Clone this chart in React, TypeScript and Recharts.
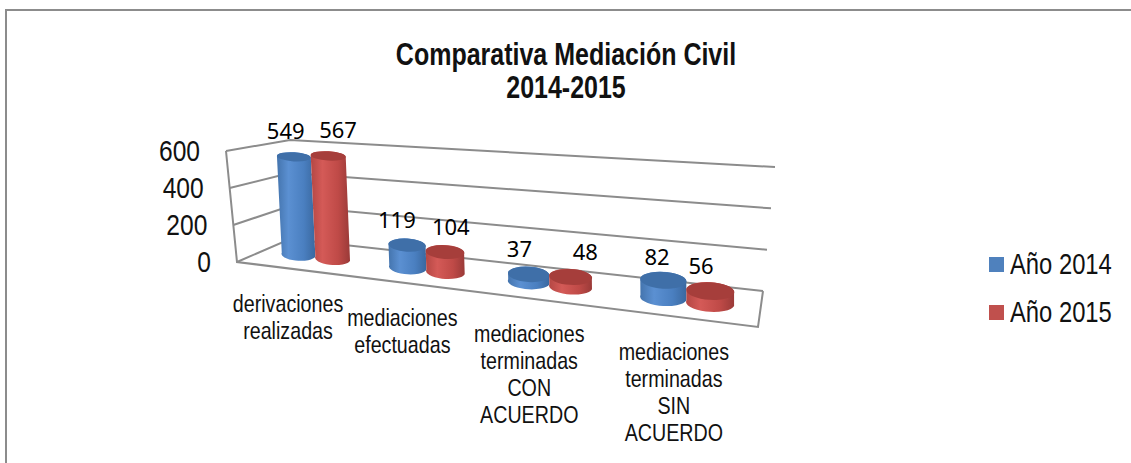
import React from 'react';
import { Bar, BarChart, CartesianGrid, LabelList, Legend, XAxis, YAxis } from 'recharts';

const categories = [
  ['derivaciones', 'realizadas'],
  ['mediaciones', 'efectuadas'],
  ['mediaciones', 'terminadas', 'CON', 'ACUERDO'],
  ['mediaciones', 'terminadas', 'SIN', 'ACUERDO'],
];
const year2014 = [549, 119, 37, 82];
const year2015 = [567, 104, 48, 56];
const yTicks = [0, 200, 400, 600];

const data = categories.map((lines, i) => ({
  name: lines.join(' '),
  y2014: year2014[i],
  y2015: year2015[i],
}));

const SANS = '"Liberation Sans", Arial, sans-serif';
const SQUEEZE = 0.82; // the picture's text is a horizontally squeezed Arial
const GRID = '#8c8c8c';
const W = 1131;
const H = 463;

// flat plot rect that recharts lays out, every mark is then pushed through project()
const PLOT = { left: 238, right: 758, top: 140, bottom: 262 };

// corners of the 3d box as seen in the picture
const FRONT = { bl: [237, 262], br: [758, 327], tl: [226, 151], tr: [746, 188] };
const BACK = { bl: [290, 239], br: [763, 291], tl: [290, 140], tr: [775, 167] };
const BAR_DEPTH = 0.5;
const PERSPECTIVE = 1.235;

const mix = (a: number, b: number, t: number) => a + (b - a) * t;

const project = (fx: number, fy: number, d: number) => {
  const u = (fx - PLOT.left) / (PLOT.right - PLOT.left);
  const v = (PLOT.bottom - fy) / (PLOT.bottom - PLOT.top);
  const s = u / (u + PERSPECTIVE * (1 - u));
  const plane = (q: typeof FRONT, k: number) =>
    mix(mix(q.bl[k], q.br[k], s), mix(q.tl[k], q.tr[k], s), v);
  return { x: mix(plane(FRONT, 0), plane(BACK, 0), d), y: mix(plane(FRONT, 1), plane(BACK, 1), d) };
};

const Cylinder = (props: any) => {
  const { x, y, width, height, gradient, cap } = props;
  const bottom = y + height;
  const bl = project(x, bottom, BAR_DEPTH);
  const br = project(x + width, bottom, BAR_DEPTH);
  const tl = project(x, y, BAR_DEPTH);
  const tr = project(x + width, y, BAR_DEPTH);
  const rx = (br.x - bl.x) / 2;
  const topRx = (tr.x - tl.x) / 2;
  // the tops flatten out the higher they are
  const level = height / (PLOT.bottom - PLOT.top);
  const ry = rx * 0.36;
  const topRy = topRx * (0.38 - 0.12 * level);
  const rot = ((Math.atan2(br.y - bl.y, br.x - bl.x) * 180) / Math.PI) * 0.5;
  const d = `M${tl.x},${tl.y} L${bl.x},${bl.y} A${rx},${ry} ${rot} 0 0 ${br.x},${br.y} L${tr.x},${tr.y} A${topRx},${topRy} ${rot} 0 0 ${tl.x},${tl.y} Z`;
  const cx = (tl.x + tr.x) / 2;
  const cy = (tl.y + tr.y) / 2;
  return (
    <g>
      <path d={d} fill={`url(#${gradient})`} />
      <ellipse cx={cx} cy={cy} rx={topRx} ry={topRy} fill={cap} transform={`rotate(${rot} ${cx} ${cy})`} />
    </g>
  );
};

const valueLabel = (nudges: number[], lifts: number[]) => (props: any) => {
  const { x, y, width, value, index } = props;
  const top = project(x + width / 2, y, BAR_DEPTH);
  return (
    <text x={top.x + nudges[index]} y={top.y - lifts[index]} textAnchor="middle" fontFamily="Noto Sans" fontSize={22} fill="#000">
      {value}
    </text>
  );
};

const gridLine = (props: any) => {
  const { y1, index } = props;
  const a = project(PLOT.left, y1, 0);
  const b = project(PLOT.left, y1, 1);
  const c = project(PLOT.right, y1, 1);
  return (
    <polyline
      key={`grid-${index}-${y1}`}
      points={`${a.x},${a.y} ${b.x},${b.y} ${c.x},${c.y}`}
      fill="none"
      stroke={GRID}
      strokeWidth={2}
    />
  );
};

// walls outline that is not part of the grid
const BoxEdges = () => {
  const a = project(PLOT.left, PLOT.top, 0);
  const b = project(PLOT.left, PLOT.bottom, 0);
  const c = project(PLOT.right, PLOT.bottom, 0);
  const d = project(PLOT.right, PLOT.bottom, 1);
  return (
    <polyline
      points={`${a.x},${a.y} ${b.x},${b.y} ${c.x},${c.y} ${d.x},${d.y}`}
      fill="none"
      stroke={GRID}
      strokeWidth={2}
    />
  );
};

const YTick = (props: any) => {
  const { y, payload } = props;
  const p = project(PLOT.left, y, 0);
  return (
    <text
      transform={`translate(${p.x - 26} ${p.y + 10}) scale(${SQUEEZE} 1)`}
      textAnchor="end"
      fontFamily={SANS}
      fontSize={30}
      fill="#111"
    >
      {payload.value}
    </text>
  );
};

const catNudge = [-3, -5, -7, -6];

const XTick = (props: any) => {
  const { x, payload, index } = props;
  const p = project(x, PLOT.bottom, 0);
  const lines = categories[index] || [payload.value];
  return (
    <text
      transform={`translate(${p.x + catNudge[index]} ${p.y + 43}) scale(${SQUEEZE} 1)`}
      textAnchor="middle"
      fontFamily={SANS}
      fontSize={24}
      fill="#111"
    >
      {lines.map((l, i) => (
        <tspan key={i} x={0} y={i * 27}>
          {l}
        </tspan>
      ))}
    </text>
  );
};

const LegendBox = ({ payload }: any) => (
  <div style={{ fontFamily: SANS, fontSize: 29, color: '#111' }}>
    {(payload || []).map((e: any) => (
      <div key={e.value} style={{ display: 'flex', alignItems: 'center', height: 48, whiteSpace: 'nowrap' }}>
        <span style={{ width: 15, height: 15, flexShrink: 0, background: e.payload.legendColor, marginRight: 6 }} />
        <span style={{ transform: `scaleX(${SQUEEZE})`, transformOrigin: 'left center' }}>{e.value}</span>
      </div>
    ))}
  </div>
);

export default function App() {
  return (
    <div style={{ position: 'absolute', left: 0, top: 0, width: W, height: H, overflow: 'hidden', background: '#fff' }}>
      <div style={{ position: 'absolute', left: 5, top: 9, width: W, height: H, borderLeft: `2px solid ${GRID}`, borderTop: `2px solid ${GRID}` }} />
      <BarChart
        width={W}
        height={H}
        data={data}
        barGap={0}
        barCategoryGap="18%"
        margin={{ left: PLOT.left - 40, right: W - PLOT.right, top: PLOT.top, bottom: H - PLOT.bottom - 30 }}
      >
        <defs>
          <linearGradient id="cylBlue" x1="0" y1="0" x2="1" y2="0">
            <stop offset="0" stopColor="#4474ad" />
            <stop offset="0.3" stopColor="#5b90d2" />
            <stop offset="0.7" stopColor="#4a7fc0" />
            <stop offset="1" stopColor="#3a689f" />
          </linearGradient>
          <linearGradient id="cylRed" x1="0" y1="0" x2="1" y2="0">
            <stop offset="0" stopColor="#b44744" />
            <stop offset="0.3" stopColor="#d45a57" />
            <stop offset="0.7" stopColor="#bf4a47" />
            <stop offset="1" stopColor="#9a3a38" />
          </linearGradient>
        </defs>
        <text
          transform={`translate(566 65) scale(${SQUEEZE} 1)`}
          textAnchor="middle"
          fontFamily={SANS}
          fontWeight="bold"
          fontSize={30.5}
          fill="#111"
        >
          <tspan x={0} y={0}>Comparativa Mediación Civil</tspan>
          <tspan x={0} y={33}>2014-2015</tspan>
        </text>
        <CartesianGrid vertical={false} horizontal={gridLine} />
        <BoxEdges />
        <XAxis dataKey="name" height={30} axisLine={false} tickLine={false} tick={<XTick />} interval={0} />
        <YAxis width={40} domain={[0, 600]} ticks={yTicks} axisLine={false} tickLine={false} tick={<YTick />} />
        <Legend
          layout="vertical"
          align="center"
          verticalAlign="middle"
          content={<LegendBox />}
          wrapperStyle={{ left: 989, top: 240, width: 140 }}
        />
        <Bar
          dataKey="y2014"
          name="Año 2014"
          legendColor="#4f81bd"
          fill="#4f81bd"
          isAnimationActive={false}
          shape={<Cylinder gradient="cylBlue" cap="#3f6fa8" />}
        >
          <LabelList content={valueLabel([-8, -10, -9, -6], [18, 17, 17, 15])} />
        </Bar>
        <Bar
          dataKey="y2015"
          name="Año 2015"
          legendColor="#c0504d"
          fill="#c0504d"
          isAnimationActive={false}
          shape={<Cylinder gradient="cylRed" cap="#a63e3b" />}
        >
          <LabelList content={valueLabel([10, 6, 15, -9], [18, 17, 17, 17])} />
        </Bar>
      </BarChart>
    </div>
  );
}
